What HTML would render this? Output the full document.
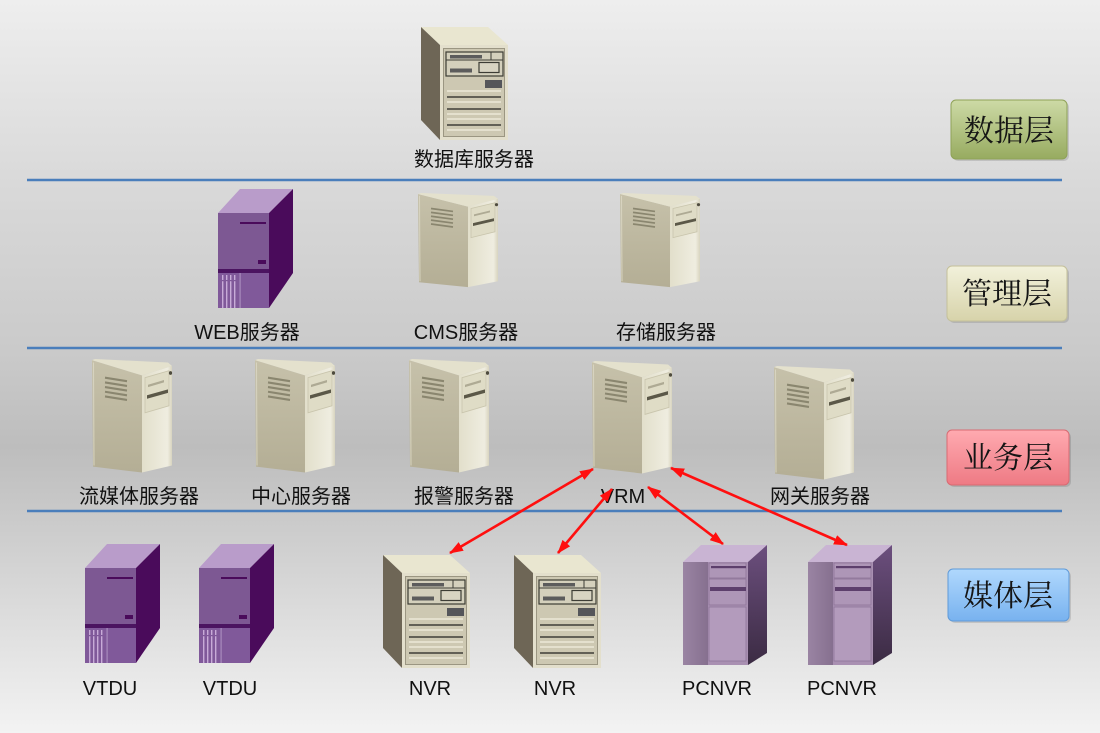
<!DOCTYPE html>
<html>
<head>
<meta charset="utf-8">
<style>
html,body{margin:0;padding:0;width:1100px;height:733px;overflow:hidden;background:#ddd;}
svg{display:block;}
.lbl{font-family:"Liberation Sans","Noto Sans CJK SC",sans-serif;font-size:20px;fill:#111;text-anchor:middle;}
.lay{font-family:"Liberation Serif","Noto Serif CJK SC",serif;font-size:30px;fill:#151515;text-anchor:middle;}
</style>
</head>
<body>
<svg width="1100" height="733" viewBox="0 0 1100 733" xmlns="http://www.w3.org/2000/svg">
<defs>
  <linearGradient id="bg" x1="0" y1="0" x2="0" y2="1">
    <stop offset="0" stop-color="#eeeeee"/>
    <stop offset="0.25" stop-color="#d9d9d9"/>
    <stop offset="0.48" stop-color="#cacaca"/>
    <stop offset="0.61" stop-color="#bdbdbd"/>
    <stop offset="0.70" stop-color="#c9c9c9"/>
    <stop offset="0.85" stop-color="#dedede"/>
    <stop offset="1" stop-color="#f3f3f3"/>
  </linearGradient>
  <linearGradient id="aSide" x1="0" y1="0" x2="0" y2="1">
    <stop offset="0" stop-color="#c6c1aa"/>
    <stop offset="1" stop-color="#b4ae95"/>
  </linearGradient>
  <linearGradient id="aFront" x1="0" y1="0" x2="1" y2="0">
    <stop offset="0" stop-color="#e2dfcb"/>
    <stop offset="0.85" stop-color="#efede0"/>
    <stop offset="1" stop-color="#d8d4bf"/>
  </linearGradient>
  <linearGradient id="dSide" x1="0" y1="0" x2="0" y2="1">
    <stop offset="0" stop-color="#6c4f7e"/>
    <stop offset="1" stop-color="#3b2b43"/>
  </linearGradient>
  <linearGradient id="dLeft" x1="0" y1="0" x2="1" y2="0">
    <stop offset="0" stop-color="#9a84a3"/>
    <stop offset="1" stop-color="#86708f"/>
  </linearGradient>
  <linearGradient id="gGreen" x1="0" y1="0" x2="0" y2="1">
    <stop offset="0" stop-color="#cddaa6"/>
    <stop offset="1" stop-color="#97ab60"/>
  </linearGradient>
  <linearGradient id="gCream" x1="0" y1="0" x2="0" y2="1">
    <stop offset="0" stop-color="#f2f1db"/>
    <stop offset="1" stop-color="#d7d3aa"/>
  </linearGradient>
  <linearGradient id="gPink" x1="0" y1="0" x2="0" y2="1">
    <stop offset="0" stop-color="#ffaab0"/>
    <stop offset="1" stop-color="#ee7a84"/>
  </linearGradient>
  <linearGradient id="gBlue" x1="0" y1="0" x2="0" y2="1">
    <stop offset="0" stop-color="#b0d8fd"/>
    <stop offset="1" stop-color="#78b2ef"/>
  </linearGradient>

  <marker id="ah" markerUnits="userSpaceOnUse" markerWidth="14" markerHeight="10" refX="13" refY="5" orient="auto-start-reverse">
    <path d="M0,0 L14,5 L0,10 z" fill="#ff0f0f"/>
  </marker>

  <!-- beige tower (local 80x100) -->
  <g id="tA">
    <polygon points="0,1 50,14 50,97 1,92" fill="url(#aSide)"/>
    <polygon points="0,1 3,0 76,3 80,6 50,14" fill="#e4e1cd"/>
    <polygon points="50,14 80,6 80,91 50,97" fill="url(#aFront)"/>
    <polygon points="53,16 77,10 77,40 53,46" fill="#dfdcc6" stroke="#c9c5ad" stroke-width="0.8"/>
    <polygon points="56,22 72,18 72,20 56,24" fill="#aeaa94"/>
    <polygon points="55,31 76,26 76,29 55,34" fill="#5b5848"/>
    <circle cx="78.5" cy="12" r="1.6" fill="#4e4b3e"/>
    <g stroke="#8a866f" stroke-width="1.8">
      <line x1="13" y1="16" x2="35" y2="19"/>
      <line x1="13" y1="20" x2="35" y2="23"/>
      <line x1="13" y1="24" x2="35" y2="27"/>
      <line x1="13" y1="28" x2="35" y2="31"/>
      <line x1="13" y1="32" x2="35" y2="35"/>
    </g>
    <line x1="1.5" y1="3" x2="2" y2="91" stroke="#d8d4c0" stroke-width="1"/>
  </g>

  <!-- NVR / DB tower (local 87x113) -->
  <g id="tB">
    <polygon points="0,0 67,0 87,18 19,18" fill="#e9e6d0"/>
    <polygon points="0,0 19,18 19,113 0,93" fill="#6e6656"/>
    <rect x="19" y="18" width="68" height="95" fill="#e3dfcc"/>
    <rect x="22.5" y="21.5" width="61" height="88" fill="#cdc8b2" stroke="#9b9682" stroke-width="1"/>
    <rect x="25" y="25" width="57" height="24" fill="#d4d0bc" stroke="#3d3d35" stroke-width="1.2"/>
    <line x1="25" y1="33" x2="82" y2="33" stroke="#3d3d35" stroke-width="1"/>
    <line x1="70" y1="25" x2="70" y2="33" stroke="#3d3d35" stroke-width="1"/>
    <rect x="29" y="28" width="32" height="3.5" fill="#5c5c5c"/>
    <rect x="29" y="41.5" width="22" height="4" fill="#5c5c5c"/>
    <rect x="58" y="35.5" width="20" height="10" fill="#d8d4c2" stroke="#3d3d35" stroke-width="1.2"/>
    <rect x="64" y="53" width="17" height="8" fill="#55565a"/>
    <g stroke="#f1ede0" stroke-width="1.3">
      <line x1="26" y1="64" x2="80" y2="64"/>
      <line x1="26" y1="75" x2="80" y2="75"/>
      <line x1="26" y1="87" x2="80" y2="87"/>
      <line x1="26" y1="92" x2="80" y2="92"/>
      <line x1="26" y1="103" x2="80" y2="103"/>
    </g>
    <g stroke="#3e3e38" stroke-width="1.4">
      <line x1="26" y1="70" x2="80" y2="70"/>
      <line x1="26" y1="82" x2="80" y2="82"/>
      <line x1="26" y1="98" x2="80" y2="98"/>
    </g>
  </g>

  <!-- purple tower (local 75x119) -->
  <g id="tC">
    <polygon points="0,24 22,0 75,0 51,24" fill="#b99cca"/>
    <polygon points="51,24 75,0 75,84 51,119" fill="#4a0b5b"/>
    <rect x="0" y="24" width="51" height="95" fill="#7d5893"/>
    <rect x="22" y="33" width="26" height="2" fill="#4a0b5b"/>
    <rect x="40" y="71" width="8" height="4" fill="#4a0b5b"/>
    <rect x="0" y="80" width="51" height="4" fill="#4b1460"/>
    <rect x="0" y="84" width="51" height="35" fill="#80599a"/>
    <g fill="#c8abd8">
      <rect x="4" y="86" width="1.4" height="33"/>
      <rect x="8" y="86" width="1.4" height="33"/>
      <rect x="12" y="86" width="1.4" height="33"/>
      <rect x="16" y="86" width="1.4" height="33"/>
    </g>
    <rect x="4" y="91" width="14" height="1.2" fill="#80599a"/>
    <rect x="21.5" y="84" width="1.2" height="35" fill="#a98bbd"/>
  </g>

  <!-- PCNVR tower (local 84x120) -->
  <g id="tD">
    <polygon points="0,17 18,0 84,0 65,17" fill="#c9b4d3"/>
    <polygon points="65,17 84,0 84,108 65,120" fill="url(#dSide)"/>
    <rect x="0" y="17" width="65" height="103" fill="#a990b2"/>
    <rect x="0" y="17" width="25" height="103" fill="url(#dLeft)"/>
    <rect x="26" y="18" width="37" height="15" fill="#ae96b7" stroke="#8e7598" stroke-width="0.8"/>
    <rect x="26" y="34" width="37" height="26" fill="#ae96b7" stroke="#8e7598" stroke-width="0.8"/>
    <rect x="26" y="62" width="37" height="54" fill="#b39bbc" stroke="#8e7598" stroke-width="0.8"/>
    <rect x="28" y="21" width="35" height="2.2" fill="#5d3f6c"/>
    <rect x="27" y="42" width="36" height="4" fill="#5d3f6c"/>
  </g>
</defs>

<rect x="0" y="0" width="1100" height="733" fill="url(#bg)"/>

<!-- separator lines -->
<g stroke="#4a7ebb" stroke-width="2.5">
  <line x1="27" y1="180" x2="1062" y2="180"/>
  <line x1="27" y1="348" x2="1062" y2="348"/>
  <line x1="27" y1="511" x2="1062" y2="511"/>
</g>

<!-- data layer -->
<use href="#tB" transform="translate(421,27)"/>
<text class="lbl" x="474" y="166">数据库服务器</text>

<!-- management layer -->
<use href="#tC" transform="translate(218,189)"/>
<text class="lbl" x="247" y="339">WEB服务器</text>
<use href="#tA" transform="translate(418,193) scale(1,0.97)"/>
<text class="lbl" x="466" y="339">CMS服务器</text>
<use href="#tA" transform="translate(620,193) scale(1,0.97)"/>
<text class="lbl" x="666" y="339">存储服务器</text>

<!-- business layer -->
<use href="#tA" transform="translate(92,359) scale(1,1.17)"/>
<text class="lbl" x="139" y="503">流媒体服务器</text>
<use href="#tA" transform="translate(255,359) scale(1,1.17)"/>
<text class="lbl" x="301" y="503">中心服务器</text>
<use href="#tA" transform="translate(409,359) scale(1,1.17)"/>
<text class="lbl" x="464" y="503">报警服务器</text>
<use href="#tA" transform="translate(592,361) scale(1,1.16)"/>
<text class="lbl" x="623" y="503">VRM</text>
<use href="#tA" transform="translate(774,366) scale(1,1.17)"/>
<text class="lbl" x="820" y="503">网关服务器</text>

<!-- media layer -->
<use href="#tC" transform="translate(85,544)"/>
<text class="lbl" x="110" y="695">VTDU</text>
<use href="#tC" transform="translate(199,544)"/>
<text class="lbl" x="230" y="695">VTDU</text>
<use href="#tB" transform="translate(383,555)"/>
<text class="lbl" x="430" y="695">NVR</text>
<use href="#tB" transform="translate(514,555)"/>
<text class="lbl" x="555" y="695">NVR</text>
<use href="#tD" transform="translate(683,545)"/>
<text class="lbl" x="717" y="695">PCNVR</text>
<use href="#tD" transform="translate(808,545)"/>
<text class="lbl" x="842" y="695">PCNVR</text>

<!-- arrows -->
<g stroke="#ff0f0f" stroke-width="2.6" fill="none">
  <line x1="593" y1="469" x2="450" y2="553" marker-start="url(#ah)" marker-end="url(#ah)"/>
  <line x1="612" y1="489" x2="558" y2="553" marker-start="url(#ah)" marker-end="url(#ah)"/>
  <line x1="648" y1="487" x2="723" y2="544" marker-start="url(#ah)" marker-end="url(#ah)"/>
  <line x1="671" y1="468" x2="847" y2="545" marker-start="url(#ah)" marker-end="url(#ah)"/>
</g>

<!-- layer labels -->
<rect x="953" y="102" width="116" height="59" rx="5" fill="#000" opacity="0.12"/>
<rect x="951" y="100" width="116" height="59" rx="5" fill="url(#gGreen)" stroke="#8fa258" stroke-width="1"/>
<text class="lay" x="1009" y="141">数据层</text>

<rect x="949" y="268" width="120" height="55" rx="5" fill="#000" opacity="0.12"/>
<rect x="947" y="266" width="120" height="55" rx="5" fill="url(#gCream)" stroke="#c4c09a" stroke-width="1"/>
<text class="lay" x="1007" y="304">管理层</text>

<rect x="949" y="432" width="122" height="55" rx="5" fill="#000" opacity="0.12"/>
<rect x="947" y="430" width="122" height="55" rx="5" fill="url(#gPink)" stroke="#d86a72" stroke-width="1"/>
<text class="lay" x="1008" y="468">业务层</text>

<rect x="950" y="571" width="121" height="52" rx="5" fill="#000" opacity="0.12"/>
<rect x="948" y="569" width="121" height="52" rx="5" fill="url(#gBlue)" stroke="#5f9ad8" stroke-width="1"/>
<text class="lay" x="1008" y="606">媒体层</text>
</svg>
</body>
</html>
